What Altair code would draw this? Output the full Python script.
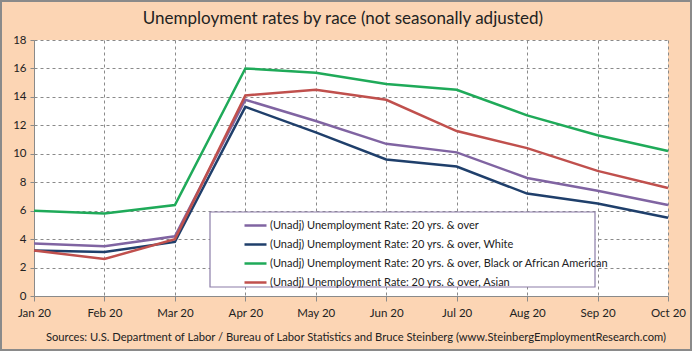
import altair as alt
import pandas as pd

months = ["Jan 20", "Feb 20", "Mar 20", "Apr 20", "May 20", "Jun 20",
          "Jul 20", "Aug 20", "Sep 20", "Oct 20"]
series_names = [
    "(Unadj) Unemployment Rate: 20 yrs. & over",
    "(Unadj) Unemployment Rate: 20 yrs. & over, White",
    "(Unadj) Unemployment Rate: 20 yrs. & over, Black or African American",
    "(Unadj) Unemployment Rate: 20 yrs. & over, Asian",
]
overall = [3.7, 3.5, 4.2, 13.8, 12.3, 10.7, 10.1, 8.3, 7.4, 6.4]
white = [3.2, 3.1, 3.8, 13.3, 11.5, 9.6, 9.1, 7.2, 6.5, 5.5]
black = [6.0, 5.8, 6.4, 16.0, 15.7, 14.9, 14.5, 12.7, 11.3, 10.2]
asian = [3.2, 2.6, 4.0, 14.1, 14.5, 13.8, 11.6, 10.4, 8.8, 7.6]
colors = ["#8064A2", "#1F3F6B", "#1FAA59", "#C0504D"]
title_text = ["Unemployment  rates by race (not seasonally adjusted)"]
footer = ["Sources: U.S. Department of Labor / Bureau of Labor Statistics and Bruce Steinberg (www.SteinbergEmploymentResearch.com)"]

rows = []
for name, vals in zip(series_names, [overall, white, black, asian]):
    for m, v in zip(months, vals):
        rows.append({"month": m, "series": name, "rate": v})
df = pd.DataFrame(rows)

W, H = 634, 256
FONT = "Lato"

one = pd.DataFrame({"a": [0]})

frame = alt.Chart(one).mark_rect(fill="transparent", stroke="#8a8a8a", strokeWidth=2).encode(
    x=alt.value(-33), x2=alt.value(W + 23), y=alt.value(-39), y2=alt.value(H + 54))

legend_box = alt.Chart(one).mark_rect(fill="white", stroke="#8B7DA8", strokeWidth=1.2).encode(
    x=alt.value(176), x2=alt.value(561), y=alt.value(172), y2=alt.value(247))

lines = alt.Chart(df).mark_line(strokeWidth=2.5).encode(
    x=alt.X("month:O", sort=months, title=None,
            scale=alt.Scale(type="point", padding=0),
            axis=alt.Axis(labelAngle=0, grid=True, gridDash=[3, 3], gridColor="#8a8a8a",
                          domainColor="#8a8a8a", tickColor="#8a8a8a", tickSize=5,
                          labelFont=FONT, labelFontSize=11.5, labelColor="#222",
                          labelPadding=6)),
    y=alt.Y("rate:Q", title=None, scale=alt.Scale(domain=[0, 18], nice=False),
            axis=alt.Axis(values=list(range(0, 19, 2)), grid=True, gridDash=[3, 3],
                          gridColor="#8a8a8a", domainColor="#8a8a8a", tickColor="#8a8a8a",
                          tickSize=4, labelFont=FONT, labelFontSize=11.5, labelColor="#222",
                          labelPadding=4)),
    color=alt.Color("series:N", sort=series_names,
                    scale=alt.Scale(domain=series_names, range=colors),
                    legend=alt.Legend(title=None, orient="none", legendX=209, legendY=173,
                                      symbolType="stroke", symbolSize=484, symbolStrokeWidth=2.5,
                                      labelFont=FONT, labelFontSize=11, labelColor="#222",
                                      rowPadding=1, labelOffset=2, labelLimit=400)),
)

title = alt.Chart(pd.DataFrame({"t": title_text})).mark_text(
    font=FONT, fontSize=17, color="#222", align="center", baseline="middle").encode(
    x=alt.value(W / 2 - 8), y=alt.value(-21), text="t:N")

foot = alt.Chart(pd.DataFrame({"t": footer})).mark_text(
    font=FONT, fontSize=11.2, color="#222", align="center", baseline="middle").encode(
    x=alt.value(W / 2 + 5), y=alt.value(H + 42), text="t:N")

chart = alt.layer(frame, legend_box, lines, title, foot).properties(
    width=W, height=H,
    autosize=alt.AutoSizeParams(type="none"),
    padding={"left": 34, "top": 40, "right": 24, "bottom": 55},
    background="#FCD5B4",
).configure_view(stroke=None, fill="white")

chart.save("out.html", embed_options={"renderer": "svg", "actions": False})
